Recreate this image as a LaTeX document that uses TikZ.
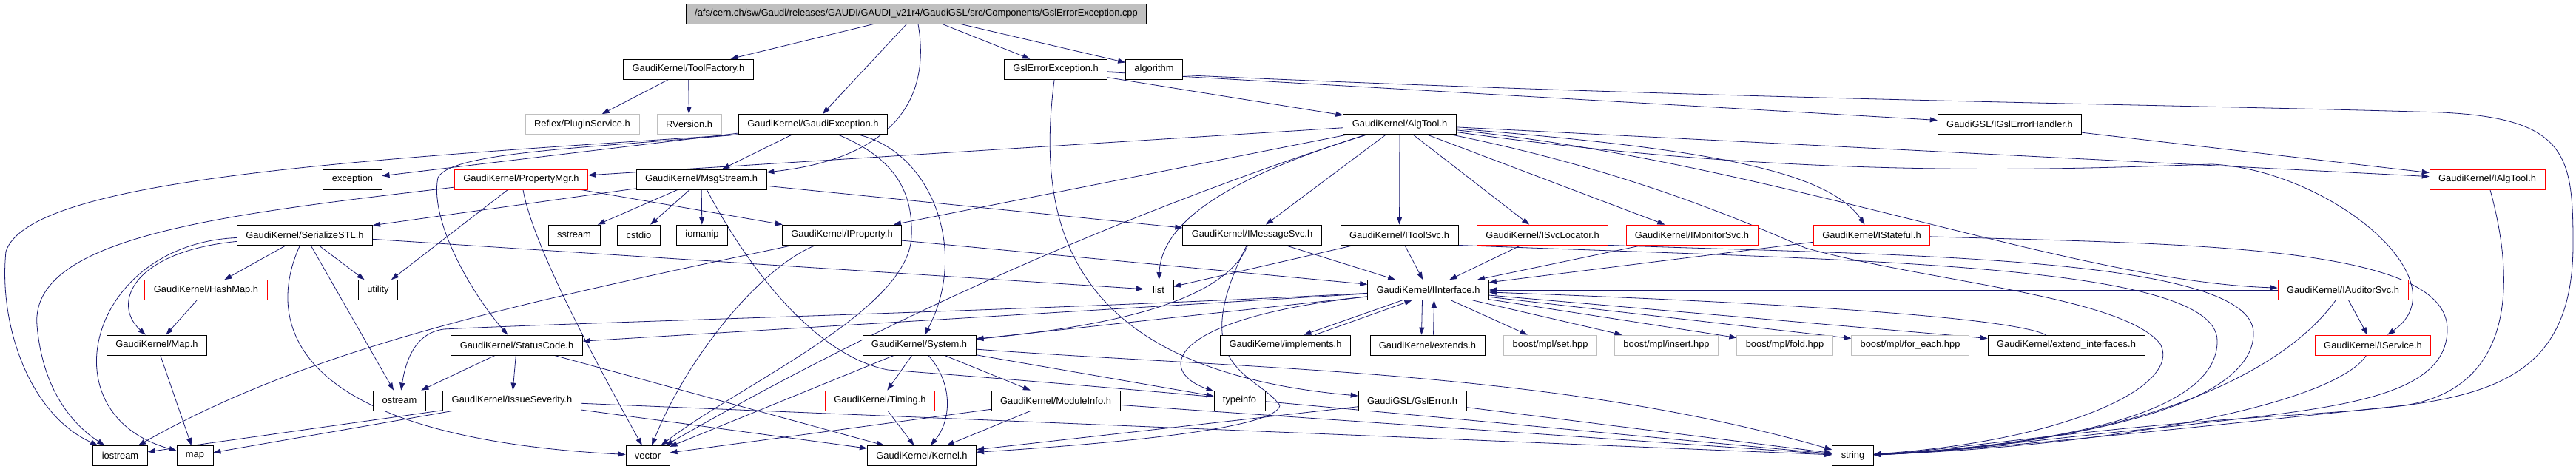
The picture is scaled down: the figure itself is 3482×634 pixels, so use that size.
\documentclass[tikz,border=0pt]{standalone}
\usepackage{fontspec}
\setmainfont{Liberation Sans}
\usepackage{tikz}
\usetikzlibrary{arrows.meta,backgrounds}
\definecolor{dblue}{HTML}{191970}
\definecolor{boxgray}{HTML}{BFBFBF}
\newcommand{\dxfont}{\fontsize{12.9pt}{14pt}\selectfont}

\tikzset{
  hbox/.style={draw=black, fill=white, line width=0.8pt, inner xsep=12pt, inner ysep=0pt,
               minimum height=27pt, font=\dxfont},
  hred/.style={hbox, draw=red},
  hgray/.style={hbox, draw=boxgray},
  hroot/.style={hbox, fill=boxgray},
  dep/.style={draw=dblue, line width=0.8pt, -{Triangle[length=10pt,width=7pt]}}
}

\begin{document}
\begin{tikzpicture}[x=1pt,y=-1pt]
  \useasboundingbox (0,0) rectangle (3482,634);
  % ---- rows 0-2 ----
  \node[hroot] (root) at (1238.5,18.5) {/afs/cern.ch/sw/Gaudi/releases/GAUDI/GAUDI\_v21r4/GaudiGSL/src/Components/GslErrorException.cpp};
  \node[hbox] (toolfac) at (930.5,93.5) {GaudiKernel/ToolFactory.h};
  \node[hbox] (gslexch) at (1427,93.5) {GslErrorException.h};
  \node[hbox] (algo) at (1560,93.5) {algorithm};
  \node[hgray] (plugsvc) at (787,168) {Reflex/PluginService.h};
  \node[hgray] (rversion) at (931.5,168) {RVersion.h};
  \node[hbox] (gaudiexc) at (1099,168) {GaudiKernel/GaudiException.h};
  \node[hbox] (algtool) at (1892,168) {GaudiKernel/AlgTool.h};
  \node[hbox] (igslhdl) at (2716.5,168) {GaudiGSL/IGslErrorHandler.h};
  % ---- rows 3-4 ----
  \node[hbox] (except) at (476.5,242.5) {exception};
  \node[hred] (propmgr) at (704.5,242.5) {GaudiKernel/PropertyMgr.h};
  \node[hbox] (msgstream) at (948,242.5) {GaudiKernel/MsgStream.h};
  \node[hred] (ialgtool) at (3362,242.5) {GaudiKernel/IAlgTool.h};
  \node[hbox] (serstl) at (412,317.5) {GaudiKernel/SerializeSTL.h};
  \node[hbox] (sstream) at (776,317.5) {sstream};
  \node[hbox] (cstdio) at (863.5,317.5) {cstdio};
  \node[hbox] (iomanip) at (949,317.5) {iomanip};
  \node[hbox] (iprop) at (1138,317.5) {GaudiKernel/IProperty.h};
  \node[hbox] (imsgsvc) at (1692.5,317.5) {GaudiKernel/IMessageSvc.h};
  \node[hbox] (itoolsvc) at (1891.5,317.5) {GaudiKernel/IToolSvc.h};
  \node[hred] (isvcloc) at (2085,317.5) {GaudiKernel/ISvcLocator.h};
  \node[hred] (imonsvc) at (2287,317.5) {GaudiKernel/IMonitorSvc.h};
  \node[hred] (istateful) at (2530,317.5) {GaudiKernel/IStateful.h};
  % ---- rows 5-6 ----
  \node[hred] (hashmap) at (278.5,392) {GaudiKernel/HashMap.h};
  \node[hbox] (utility) at (511,392) {utility};
  \node[hbox] (list) at (1566,392) {list};
  \node[hbox] (iiface) at (1930.5,392) {GaudiKernel/IInterface.h};
  \node[hred] (iaudsvc) at (3167,392) {GaudiKernel/IAuditorSvc.h};
  \node[hbox] (gkmap) at (212,466.5) {GaudiKernel/Map.h};
  \node[hbox] (statcode) at (698.5,466.5) {GaudiKernel/StatusCode.h};
  \node[hbox] (system) at (1242.5,466.5) {GaudiKernel/System.h};
  \node[hbox] (implem) at (1737.5,466.5) {GaudiKernel/implements.h};
  \node[hbox] (extends) at (1929.5,466.5) {GaudiKernel/extends.h};
  \node[hgray] (mplset) at (2095.5,466.5) {boost/mpl/set.hpp};
  \node[hgray] (mplins) at (2252.5,466.5) {boost/mpl/insert.hpp};
  \node[hgray] (mplfold) at (2412.5,466.5) {boost/mpl/fold.hpp};
  \node[hgray] (mplfe) at (2582,466.5) {boost/mpl/for\_each.hpp};
  \node[hbox] (extif) at (2793,466.5) {GaudiKernel/extend\_interfaces.h};
  \node[hred] (iservice) at (3207.5,466.5) {GaudiKernel/IService.h};
  % ---- rows 7-8 ----
  \node[hbox] (ostream) at (540,541.5) {ostream};
  \node[hbox] (issue) at (692,541.5) {GaudiKernel/IssueSeverity.h};
  \node[hred] (timing) at (1189.5,541.5) {GaudiKernel/Timing.h};
  \node[hbox] (modinfo) at (1427,541.5) {GaudiKernel/ModuleInfo.h};
  \node[hbox] (typeinfo) at (1675.5,541.5) {typeinfo};
  \node[hbox] (gslerr) at (1909,541.5) {GaudiGSL/GslError.h};
  \node[hbox] (iostream) at (162.5,616) {iostream};
  \node[hbox] (map) at (263.5,616) {map};
  \node[hbox] (vector) at (875.5,616) {vector};
  \node[hbox] (kernel) at (1246,616) {GaudiKernel/Kernel.h};
  \node[hbox] (string) at (2504.5,616) {string};

  \begin{scope}[on background layer]
    % root file
    \draw[dep] (root) -- (toolfac);
    \draw[dep] (root) -- (gaudiexc);
    \draw[dep] (root) .. controls (1260,140) and (1200,215) .. (msgstream);
    \draw[dep] (root) -- (gslexch);
    \draw[dep] (root) -- (algo);
    \draw[dep] (toolfac) -- (plugsvc);
    \draw[dep] (toolfac) -- (rversion);
    % GslErrorException.h
    \draw[dep] (gslexch) -- (algtool);
    \draw[dep] (gslexch) -- (igslhdl);
    \draw[dep] (gslexch) .. controls (1400,300) and (1440,500) .. (gslerr);
    \draw[dep] (gslexch) .. controls (2300,135) and (2900,140) .. (3300,152)
          .. controls (3470,160) and (3478,210) .. (3478,330)
          .. controls (3478,560) and (3300,545) .. (3000,568)
          .. controls (2780,585) and (2640,608) .. (string);
    \draw[dep] (igslhdl) -- (ialgtool);
    % GaudiException.h
    \draw[dep] (gaudiexc) -- (except);
    \draw[dep] (gaudiexc.south west) .. controls (500,215) and (40,240) .. (8,340)
          .. controls (-2,440) and (40,560) .. (iostream);
    \draw[dep] (gaudiexc) -- (msgstream);
    \draw[dep] (gaudiexc.south west) .. controls (800,200) and (610,205) .. (592,240)
          .. controls (580,300) and (640,400) .. (statcode);
    \draw[dep] (gaudiexc) .. controls (1260,205) and (1310,340) .. (system);
    \draw[dep] (gaudiexc) .. controls (1200,210) and (1235,250) .. (1232,320)
          .. controls (1228,420) and (1000,520) .. (vector);
    % MsgStream.h
    \draw[dep] (msgstream) -- (imsgsvc);
    \draw[dep] (msgstream) -- (serstl);
    \draw[dep] (msgstream) -- (sstream);
    \draw[dep] (msgstream) -- (cstdio);
    \draw[dep] (msgstream) -- (iomanip);
    \draw[dep] (msgstream) .. controls (1010,360) and (1100,480) .. (1200,500)
          .. controls (1600,530) and (2000,570) .. (string);
    % SerializeSTL.h and maps
    \draw[dep] (serstl) -- (hashmap);
    \draw[dep] (serstl) .. controls (180,340) and (150,410) .. (gkmap);
    \draw[dep] (serstl) .. controls (120,330) and (60,560) .. (map);
    \draw[dep] (serstl) -- (utility);
    \draw[dep] (serstl) -- (ostream);
    \draw[dep] (serstl) .. controls (360,430) and (380,590) .. (vector);
    \draw[dep] (serstl) -- (list);
    \draw[dep] (hashmap) -- (gkmap);
    \draw[dep] (gkmap) -- (map);
    % PropertyMgr.h, IProperty.h
    \draw[dep] (propmgr) .. controls (300,290) and (40,320) .. (50,440)
          .. controls (58,530) and (100,575) .. (iostream);
    \draw[dep] (propmgr) -- (utility);
    \draw[dep] (propmgr) .. controls (720,330) and (800,480) .. (vector);
    \draw[dep] (propmgr) -- (iprop);
    \draw[dep] (iprop) -- (iiface);
    \draw[dep] (iprop) .. controls (700,410) and (420,470) .. (iostream);
    \draw[dep] (iprop) .. controls (1030,360) and (930,480) .. (vector);
    % AlgTool.h
    \draw[dep] (algtool) -- (propmgr);
    \draw[dep] (algtool) -- (iprop);
    \draw[dep] (algtool) .. controls (1660,240) and (1570,300) .. (list);
    \draw[dep] (algtool) .. controls (1600,260) and (1250,400) .. (vector);
    \draw[dep] (algtool) -- (imsgsvc);
    \draw[dep] (algtool) -- (itoolsvc);
    \draw[dep] (algtool) -- (isvcloc);
    \draw[dep] (algtool) -- (imonsvc);
    \draw[dep] (algtool) .. controls (2300,200) and (2470,230) .. (istateful);
    \draw[dep] (algtool) -- (ialgtool);
    \draw[dep] (algtool) .. controls (2450,245) and (2800,228) .. (2990,222)
          .. controls (3150,230) and (3330,380) .. (iservice);
    \draw[dep] (algtool) .. controls (2400,220) and (2800,380) .. (iaudsvc);
    \draw[dep] (algtool) .. controls (2200,230) and (2360,300) .. (2440,335)
          .. controls (2600,380) and (2870,400) .. (2920,465)
          .. controls (2950,520) and (2800,595) .. (string);
    % interface headers of row 4
    \draw[dep] (imsgsvc) -- (iiface);
    \draw[dep] (imsgsvc) .. controls (1650,420) and (1450,445) .. (system);
    \draw[dep] (imsgsvc) .. controls (1600,500) and (1700,505) .. (1730,548)
          .. controls (1725,580) and (1500,600) .. (kernel);
    \draw[dep] (itoolsvc) -- (iiface);
    \draw[dep] (itoolsvc) -- (list);
    \draw[dep] (itoolsvc.south east) .. controls (2500,352) and (2995,355) .. (2997,460)
          .. controls (2999,555) and (2800,600) .. (string);
    \draw[dep] (isvcloc) -- (iiface);
    \draw[dep] (isvcloc.south east) .. controls (2550,345) and (3045,345) .. (3046,450)
          .. controls (3047,550) and (2800,600) .. (string);
    \draw[dep] (imonsvc) -- (iiface);
    \draw[dep] (istateful) -- (iiface);
    \draw[dep] (istateful) .. controls (2950,330) and (3308,330) .. (3308,445)
          .. controls (3308,540) and (3150,552) .. (2950,575)
          .. controls (2750,595) and (2620,612) .. (string);
    \draw[dep] (ialgtool) .. controls (3400,380) and (3400,525) .. (3250,548)
          .. controls (2900,585) and (2650,610) .. (string);
    \draw[dep] (iaudsvc) -- (iiface);
    \draw[dep] (iaudsvc) -- (iservice);
    \draw[dep] (iaudsvc) .. controls (3090,500) and (2900,600) .. (string);
    \draw[dep] (iservice) .. controls (3160,540) and (2900,600) .. (string);
    % IInterface.h
    \draw[dep] ([xshift=-35pt]iiface.south) -- ([xshift=25pt]implem.north);
    \draw[dep] ([xshift=40pt]implem.north) -- ([xshift=-22pt]iiface.south);
    \draw[dep] ([xshift=-8pt]iiface.south) -- ([xshift=-8pt]extends.north);
    \draw[dep] ([xshift=8pt]extends.north) -- ([xshift=8pt]iiface.south);
    \draw[dep] (iiface) -- (mplset);
    \draw[dep] (iiface) -- (mplins);
    \draw[dep] (iiface) -- (mplfold);
    \draw[dep] (iiface) -- (mplfe);
    \draw[dep] (iiface) -- (extif);
    \draw[dep] (extif) .. controls (2700,420) and (2150,400) .. (iiface);
    \draw[dep] (iiface) -- (system);
    \draw[dep] (iiface) -- (statcode);
    \draw[dep] (iiface) .. controls (1400,420) and (800,435) .. (600,445)
          .. controls (560,450) and (548,490) .. (ostream);
    \draw[dep] (iiface) .. controls (1580,430) and (1560,500) .. (typeinfo);
    % System.h and lower rows
    \draw[dep] (system) -- (timing);
    \draw[dep] (system) .. controls (1290,520) and (1285,570) .. (kernel);
    \draw[dep] (system) -- (modinfo);
    \draw[dep] (system) -- (typeinfo);
    \draw[dep] (system) .. controls (1700,500) and (2100,500) .. (string);
    \draw[dep] (system) -- (vector);
    \draw[dep] (timing) -- (kernel);
    \draw[dep] (modinfo) -- (kernel);
    \draw[dep] (modinfo) -- (string);
    \draw[dep] (modinfo) -- (vector);
    \draw[dep] (statcode) -- (issue);
    \draw[dep] (statcode) -- (kernel);
    \draw[dep] (statcode) -- (ostream);
    \draw[dep] (issue) -- (iostream);
    \draw[dep] (issue) -- (map);
    \draw[dep] (issue) -- (kernel);
    \draw[dep] (issue) -- (string);
    \draw[dep] (gslerr) -- (string);
    \draw[dep] (gslerr) -- (kernel);
  \end{scope}
\end{tikzpicture}
\end{document}
